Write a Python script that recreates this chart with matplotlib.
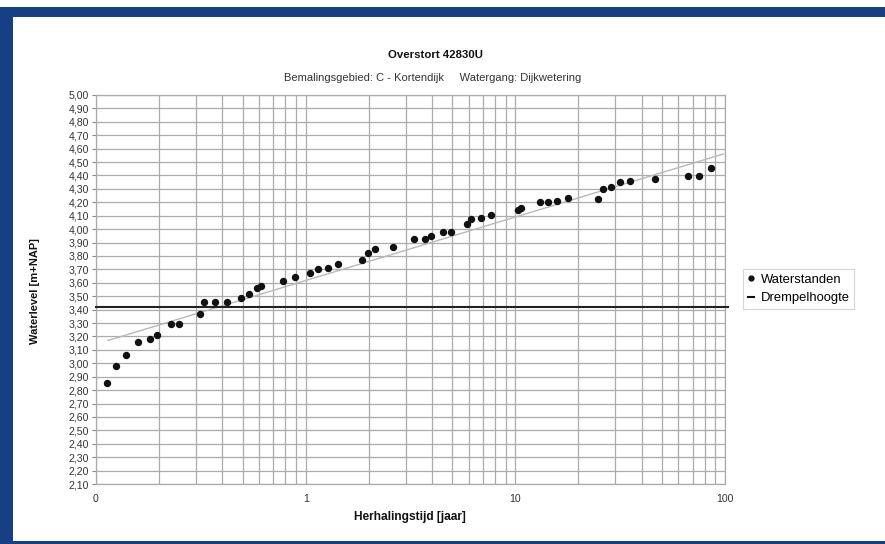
import numpy as np
import matplotlib
matplotlib.use("Agg")
import matplotlib.pyplot as plt
from matplotlib.lines import Line2D
from matplotlib.patches import Rectangle
from matplotlib.ticker import FixedLocator, FixedFormatter, NullFormatter

plt.rcParams['font.family'] = ['Liberation Sans', 'DejaVu Sans']

# Data: return period [year] vs water level [m+NAP]
return_period = [0.113, 0.1245, 0.1395, 0.158, 0.180, 0.1947, 0.2287, 0.249, 0.313,
                 0.3285, 0.3695, 0.4227, 0.4914, 0.538, 0.586, 0.614, 0.777, 0.892,
                 1.048, 1.148, 1.273, 1.43, 1.862, 1.989, 2.133, 2.60, 3.296, 3.706,
                 3.958, 4.53, 4.95, 5.86, 6.12, 6.85, 7.68, 10.3, 10.67, 13.06, 14.35,
                 15.84, 17.76, 24.9, 26.2, 28.6, 31.6, 35.3, 46.2, 66.8, 75.3, 85.7]
water_level = [2.85, 2.98, 3.06, 3.16, 3.18, 3.21, 3.29, 3.29, 3.37,
               3.455, 3.46, 3.46, 3.49, 3.52, 3.56, 3.575, 3.61, 3.64,
               3.675, 3.70, 3.707, 3.742, 3.767, 3.824, 3.854, 3.866, 3.924, 3.924,
               3.949, 3.981, 3.98, 4.041, 4.073, 4.086, 4.103, 4.14, 4.16, 4.205, 4.20,
               4.213, 4.23, 4.228, 4.297, 4.312, 4.35, 4.36, 4.374, 4.395, 4.395, 4.454]
trend_x = [0.114, 98.0]
trend_y = [3.17, 4.56]
threshold = 3.42

x_ticks = [0.1, 1, 10, 100]
x_tick_labels = ["0", "1", "10", "100"]
y_ticks = [round(2.1 + 0.1 * i, 2) for i in range(30)]
y_tick_labels = [f"{v:.2f}".replace(".", ",") for v in y_ticks]

fig = plt.figure(figsize=(8.85, 5.44), dpi=100)
fig.patch.set_facecolor('white')

# blue frame
blue = '#173f84'
fig.patches.append(Rectangle((0, 1 - 17/544), 1, 10/544, transform=fig.transFigure,
                             facecolor=blue, edgecolor='none', zorder=0))
fig.patches.append(Rectangle((0, 0), 13/885, 1 - 7/544, transform=fig.transFigure,
                             facecolor=blue, edgecolor='none', zorder=0))
fig.patches.append(Rectangle((0, 0), 1, 3/544, transform=fig.transFigure,
                             facecolor=blue, edgecolor='none', zorder=0))

ax = fig.add_axes([96/885, 1 - 484/544, (725 - 96)/885, (484 - 95)/544])
ax.set_xscale('log')
ax.set_xlim(0.1, 100)
ax.set_ylim(2.1, 5.0)

ax.xaxis.set_major_locator(FixedLocator(x_ticks))
ax.xaxis.set_major_formatter(FixedFormatter(x_tick_labels))
minor = [m * 10.0**e for e in (-1, 0, 1) for m in range(2, 10)]
ax.xaxis.set_minor_locator(FixedLocator(minor))
ax.xaxis.set_minor_formatter(NullFormatter())
ax.yaxis.set_major_locator(FixedLocator(y_ticks))
ax.yaxis.set_major_formatter(FixedFormatter(y_tick_labels))

grid_c = '#ababab'
ax.grid(True, which='major', axis='both', color=grid_c, lw=0.9)
ax.grid(True, which='minor', axis='x', color=grid_c, lw=0.9)
ax.set_axisbelow(True)
for s in ax.spines.values():
    s.set_color(grid_c)
    s.set_linewidth(0.9)

ax.tick_params(axis='y', which='major', length=3, width=0.8, color='#888888',
               labelsize=7.6, pad=2, labelcolor='#333333')
ax.tick_params(axis='x', which='major', length=0, labelsize=7.6, pad=7, labelcolor='#333333')
ax.tick_params(axis='x', which='minor', length=0)

ax.plot(trend_x, trend_y, color='#b8b8b8', lw=1.0, zorder=2)
ax.axhline(threshold, color='#222222', lw=1.5, zorder=3, clip_on=False, xmax=1.005)
ax.plot(return_period, water_level, linestyle='none', marker='o', markersize=4.3,
        color='#111111', zorder=4)

fig.text(435/885, 1 - 55/544, "Overstort 42830U", ha='center', va='center',
         fontsize=8.2, fontweight='bold', color='#111111')
fig.text(433/885, 1 - 78/544, "Bemalingsgebied: C - Kortendijk     Watergang: Dijkwetering",
         ha='center', va='center', fontsize=8, color='#333333')
fig.text(410/885, 1 - 517/544, "Herhalingstijd [jaar]", ha='center', va='center',
         fontsize=8.6, fontweight='bold', color='#111111')
fig.text(35/885, 1 - 291/544, "Waterlevel [m+NAP]", ha='center', va='center',
         rotation=90, fontsize=8, fontweight='bold', color='#111111')

handles = [Line2D([], [], linestyle='none', marker='o', markersize=3.5, color='#111111'),
           Line2D([], [], color='#111111', lw=1.5)]
leg = fig.legend(handles, ["Waterstanden", "Drempelhoogte"], loc='center left',
                 bbox_to_anchor=(743/885, 1 - 289/544), fontsize=9.4, frameon=True,
                 fancybox=False, edgecolor='#cccccc', handlelength=0.5,
                 handletextpad=0.5, borderpad=0.35, labelspacing=0.45, borderaxespad=0)
leg.get_frame().set_linewidth(0.8)

fig.savefig("out.png", dpi=100, facecolor='white')
